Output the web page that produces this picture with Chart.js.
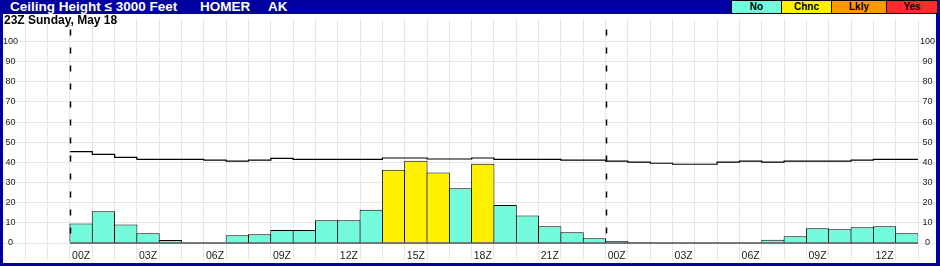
<!DOCTYPE html>
<html>
<head>
<meta charset="utf-8">
<script src="https://cdn.jsdelivr.net/npm/chart.js@4.4.0/dist/chart.umd.min.js"></script>
<style>
  body { margin: 0; background: #fff; }
  #frame { position: relative; width: 940px; height: 266px; background: #0000a0; font-family: 'Liberation Sans', Arial, sans-serif; overflow: hidden; }
  .title { position: absolute; top: 0; line-height: 14px; font-size: 13.5px; font-weight: bold; color: #fff; white-space: nowrap; }
  #legend { position: absolute; top: 0; left: 731px; height: 14px; display: flex; }
  #legend span { box-sizing: border-box; height: 14px; border: 1px solid #000; text-align: center; font-size: 10px; font-weight: bold; line-height: 12px; color: #000; }
  #legend span + span { margin-left: -1px; }
  #plot { position: absolute; left: 3px; top: 14px; width: 933px; height: 249px; background: #fff; }
  #sub { position: absolute; left: 1px; top: 0; font-size: 12px; line-height: 12px; font-weight: bold; color: #000; white-space: nowrap; }
</style>
</head>
<body>
<div id="frame">
  <span class="title" style="left:10px">Ceiling Height ≤ 3000 Feet</span>
  <span class="title" style="left:200px">HOMER</span>
  <span class="title" style="left:268px">AK</span>
  <div id="legend"></div>
  <div id="plot">
    <canvas id="chart" width="933" height="249"></canvas>
    <div id="sub">23Z Sunday, May 18</div>
  </div>
</div>
<script>
// forecast hours shown on the chart
const hours = ['00Z', '01Z', '02Z', '03Z', '04Z', '05Z', '06Z', '07Z', '08Z', '09Z', '10Z', '11Z',
  '12Z', '13Z', '14Z', '15Z', '16Z', '17Z', '18Z', '19Z', '20Z', '21Z', '22Z', '23Z',
  '00Z', '01Z', '02Z', '03Z', '04Z', '05Z', '06Z', '07Z', '08Z', '09Z', '10Z', '11Z', '12Z', '13Z'];

// probability (%) of ceiling <= 3000 ft, per hour
const probability = [9.7, 15.7, 9.2, 4.9, 1.5, 0, 0, 3.9, 4.4, 6.5, 6.5, 11.3,
  11.3, 16.5, 36.4, 40.8, 35.0, 27.2, 39.3, 18.9, 13.6, 8.3, 5.3, 2.4,
  1.0, 0.5, 0, 0, 0, 0, 0, 1.6, 3.4, 7.3, 6.8, 7.8, 8.3, 4.9];

// category of each hour
const level = ['No', 'No', 'No', 'No', 'No', 'No', 'No', 'No', 'No', 'No', 'No', 'No',
  'No', 'No', 'Chnc', 'Chnc', 'Chnc', 'No', 'Chnc', 'No', 'No', 'No', 'No', 'No',
  'No', 'No', 'No', 'No', 'No', 'No', 'No', 'No', 'No', 'No', 'No', 'No', 'No', 'No'];

// black step line
const refLine = [45.4, 44.0, 42.5, 41.5, 41.5, 41.5, 41.1, 40.6, 41.1, 42.0, 41.5, 41.5,
  41.5, 41.5, 42.2, 42.2, 41.7, 41.7, 42.2, 41.5, 41.5, 41.5, 41.1, 41.1,
  40.6, 40.1, 39.6, 39.1, 39.1, 40.1, 40.6, 40.1, 40.6, 40.6, 40.6, 41.1, 41.5, 41.5];

const levels = ['No', 'Chnc', 'Lkly', 'Yes'];
const levelColors = ['#73fbdc', '#fff000', '#ff9900', '#ff2a2a'];
const legendWidths = [51, 51, 56, 52];

const yTicks = [0, 10, 20, 30, 40, 50, 60, 70, 80, 90, 100];

const PAD = 3; // empty hour slots before the first forecast hour
const gridColor = '#e6e6e6';
const family = "'Liberation Sans', Arial, sans-serif";

// legend boxes in the title bar
const legend = document.getElementById('legend');
levels.forEach((name, i) => {
  const s = document.createElement('span');
  s.textContent = name;
  s.style.background = levelColors[i];
  s.style.width = legendWidths[i] + 'px';
  legend.appendChild(s);
});

const cats = Array(PAD).fill('').concat(hours);
const edges = cats.concat('').map((_, i) => String(i));
const barData = Array(PAD).fill(null).concat(probability);
const lineData = Array(PAD).fill(null).concat(refLine, [refLine[refLine.length - 1]]);

// baseline and dashed day separators
const dayLines = {
  id: 'dayLines',
  afterDatasetsDraw(chart) {
    const {ctx, chartArea, scales: {x, y}} = chart;
    const half = (x.getPixelForValue(1) - x.getPixelForValue(0)) / 2;
    const y0 = y.getPixelForValue(0);
    ctx.save();
    ctx.strokeStyle = '#000';
    ctx.lineWidth = 1.2;
    ctx.beginPath();
    ctx.moveTo(x.getPixelForValue(PAD) - half, y0);
    ctx.lineTo(x.getPixelForValue(PAD + hours.length - 1) + half, y0);
    ctx.stroke();

    ctx.lineWidth = 1.5;
    ctx.setLineDash([6, 12]);
    hours.forEach((h, i) => {
      if (h !== '00Z') return;
      const px = Math.round(x.getPixelForValue(PAD + i) - half) + 0.5;
      ctx.beginPath();
      ctx.moveTo(px, chartArea.top + 10);
      ctx.lineTo(px, y0 + 1);
      ctx.stroke();
    });
    ctx.restore();
  }
};

const yTickLabel = v => yTicks.includes(v) ? v : '';
const yGrid = c => yTicks.includes(c.tick.value) ? gridColor : 'rgba(0,0,0,0)';

new Chart(document.getElementById('chart'), {
  type: 'bar',
  data: {
    labels: cats,
    datasets: [
      {
        type: 'line',
        data: lineData,
        xAxisID: 'xe',
        yAxisID: 'y',
        stepped: true,
        borderColor: '#000',
        borderWidth: 1.2,
        pointRadius: 0,
        fill: false,
        order: 1
      },
      {
        type: 'bar',
        data: barData,
        xAxisID: 'x',
        yAxisID: 'y',
        backgroundColor: c => levelColors[levels.indexOf(level[c.dataIndex - PAD])],
        borderColor: '#000',
        borderWidth: 1,
        grouped: false,
        barPercentage: 1.045,
        categoryPercentage: 1,
        order: 2
      }
    ]
  },
  options: {
    responsive: false,
    devicePixelRatio: 1,
    animation: false,
    layout: { padding: 0 },
    plugins: { legend: { display: false }, tooltip: { enabled: false } },
    scales: {
      x: {
        type: 'category',
        offset: true,
        grid: { offset: true, color: gridColor, tickColor: gridColor, tickLength: 17 },
        border: { display: false },
        ticks: {
          autoSkip: false,
          maxRotation: 0,
          padding: -10,
          color: '#222',
          font: { size: 10.5, family },
          callback: (v, i) => (i >= PAD && (i - PAD) % 3 === 0) ? cats[i] : ''
        },
        afterFit: s => { s.height = 20; }
      },
      xe: { type: 'category', labels: edges, offset: false, display: false },
      y: {
        position: 'left',
        min: 0,
        max: 111,
        grid: { color: yGrid, drawTicks: false },
        border: { display: false },
        ticks: { stepSize: 10, mirror: true, padding: 0, crossAlign: 'center', color: '#222', font: { size: 9, family }, callback: yTickLabel },
        afterFit: s => { s.width = 0; }
      },
      y2: {
        position: 'right',
        min: 0,
        max: 111,
        grid: { drawOnChartArea: false, drawTicks: true, tickLength: 18, tickColor: yGrid },
        border: { display: false },
        ticks: { stepSize: 10, padding: -16, crossAlign: 'center', color: '#222', font: { size: 9, family }, callback: yTickLabel },
        afterFit: s => { s.width = 18; }
      }
    }
  },
  plugins: [dayLines]
});
</script>
</body>
</html>
